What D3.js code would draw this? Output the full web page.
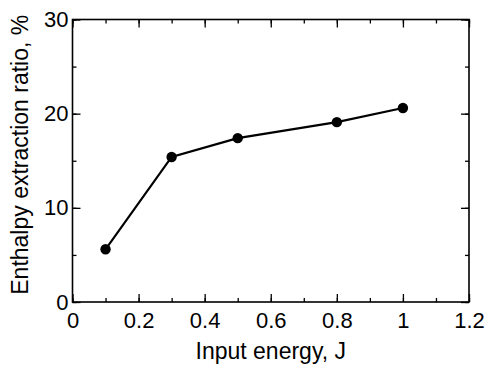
<!DOCTYPE html>
<html>
<head>
<meta charset="utf-8">
<script src="https://cdn.jsdelivr.net/npm/d3@7"></script>
<style>
  body { margin: 0; background: #fff; }
  text { font-family: "Liberation Sans", Arial, sans-serif; fill: #000; }
</style>
</head>
<body>
<div id="chart"></div>
<script>
// data
var energy = [0.1, 0.3, 0.5, 0.8, 1.0];
var ratio = [5.6, 15.4, 17.4, 19.1, 20.6];
var xTicks = [0, 0.2, 0.4, 0.6, 0.8, 1, 1.2];
var yTicks = [0, 10, 20, 30];

function init() {
    var w = 486, h = 367;
    var margin = { top: 19.5, right: 17, bottom: 65, left: 72.5 };
    var innerWidth = w - margin.left - margin.right;
    var innerHeight = h - margin.top - margin.bottom;

    var svg = d3.select("#chart").append("svg")
        .attr("width", w)
        .attr("height", h);

    var g = svg.append("g")
        .attr("transform", `translate(${margin.left}, ${margin.top})`);

    var xScale = d3.scaleLinear().domain([0, 1.2]).range([0, innerWidth]);
    var yScale = d3.scaleLinear().domain([0, 30]).range([innerHeight, 0]);

    var xMinor = d3.range(0, 12.01, 1).map(d => d / 10);
    var yMinor = d3.range(0, 31, 5);

    // inward ticks, mirrored on top and right
    function tickAxis(axis, scale, ticks, len, labels) {
        return axis(scale).tickValues(ticks).tickSizeInner(-len).tickSizeOuter(0)
            .tickFormat(labels ? d3.format("~g") : "");
    }

    function styleAxis(sel) {
        sel.select(".domain").remove();
        sel.selectAll("line").attr("stroke", "#000").attr("stroke-width", 1.3);
        sel.selectAll("text").style("font-size", "22px");
    }

    // minor ticks
    g.append("g").attr("transform", `translate(0, ${innerHeight})`)
        .call(tickAxis(d3.axisBottom, xScale, xMinor, 4, false)).call(styleAxis);
    g.append("g").call(tickAxis(d3.axisTop, xScale, xMinor, 4, false)).call(styleAxis);
    g.append("g").call(tickAxis(d3.axisLeft, yScale, yMinor, 4, false)).call(styleAxis);
    g.append("g").attr("transform", `translate(${innerWidth}, 0)`)
        .call(tickAxis(d3.axisRight, yScale, yMinor, 4, false)).call(styleAxis);

    // major ticks
    g.append("g").attr("transform", `translate(0, ${innerHeight})`)
        .call(tickAxis(d3.axisBottom, xScale, xTicks, 8, true).tickPadding(10.5))
        .call(styleAxis);
    g.append("g").call(tickAxis(d3.axisTop, xScale, xTicks, 8, false)).call(styleAxis);
    g.append("g")
        .call(tickAxis(d3.axisLeft, yScale, yTicks, 8, true).tickPadding(4))
        .call(styleAxis);
    g.append("g").attr("transform", `translate(${innerWidth}, 0)`)
        .call(tickAxis(d3.axisRight, yScale, yTicks, 8, false)).call(styleAxis);

    // frame
    g.append("rect")
        .attr("width", innerWidth)
        .attr("height", innerHeight)
        .attr("fill", "none")
        .attr("stroke", "#000")
        .attr("stroke-width", 1.6);

    var data = energy.map((e, i) => ({ x: e, y: ratio[i] }));

    var line = d3.line().x(d => xScale(d.x)).y(d => yScale(d.y));

    g.append("path")
        .datum(data)
        .attr("d", line)
        .attr("fill", "none")
        .attr("stroke", "#000")
        .attr("stroke-width", 2.2);

    g.selectAll("circle").data(data).enter()
        .append("circle")
        .attr("cx", d => xScale(d.x))
        .attr("cy", d => yScale(d.y))
        .attr("r", 5.2)
        .attr("fill", "#000");

    // axis titles
    svg.append("text")
        .attr("x", margin.left + innerWidth / 2)
        .attr("y", 359)
        .attr("text-anchor", "middle")
        .style("font-size", "23px")
        .text("Input energy, J");

    svg.append("text")
        .attr("transform", `translate(28, ${margin.top + innerHeight / 2 - 6}) rotate(-90)`)
        .attr("text-anchor", "middle")
        .style("font-size", "23px")
        .text("Enthalpy extraction ratio, %");
}

window.onload = init;
</script>
</body>
</html>
